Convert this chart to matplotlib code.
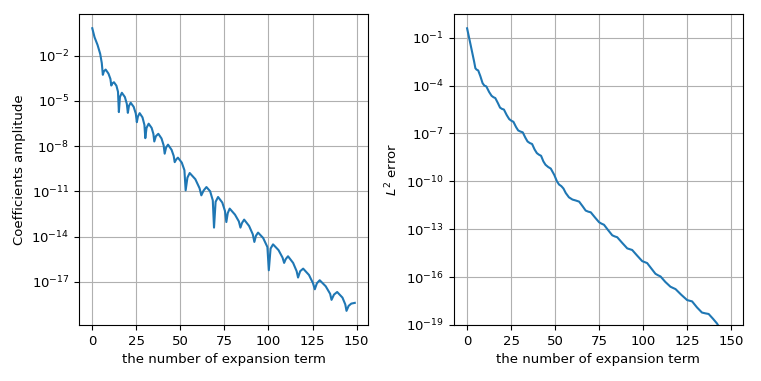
import numpy as np
import matplotlib
matplotlib.use("Agg")
import matplotlib.pyplot as plt

# values (log10 of the quantity)
coef_n = [0, 1.3, 3, 4.5, 5.4, 6,
          6.6, 7.6, 9.2, 10.3, 10.8,
          11.4, 12.3, 13.7, 14.6, 15.1,
          15.7, 16.8, 18.5, 19.6, 20.2,
          20.8, 21.8, 23.5, 24.7, 25.3,
          25.9, 26.9, 28.5, 29.6, 30.1,
          30.8, 32, 33.7, 34.7, 35.2,
          36.1, 37.5, 39.3, 40.5, 41.1,
          41.9, 43, 45, 46.2, 46.8,
          47.6, 48.6, 50.8, 52.3, 53,
          54, 55.3, 58.5, 60.9, 61.9,
          63.2, 64.8, 66.9, 68.4, 69.1,
          70, 71.4, 73.8, 75.3, 76.1,
          76.9, 78, 81, 83.2, 84.1,
          85, 86.2, 89, 91.1, 92,
          92.9, 94.1, 97, 99.4, 100.2,
          101.2, 102.6, 105.7, 108, 108.9,
          109.8, 111.1, 114, 116, 116.8,
          118, 119.7, 123, 125.3, 126.3,
          127.5, 129.1, 132.5, 135, 135.8,
          137.2, 139, 142, 143.6, 144.3,
          145.5, 147, 149]
coef_log = [-0.19, -0.79, -1.3, -1.89, -2.5, -3.28,
            -3.05, -2.93, -3.2, -3.55, -3.99,
            -3.85, -3.77, -4.0, -4.4, -5.75,
            -4.75, -4.47, -4.75, -5.2, -5.8,
            -5.35, -5.13, -5.4, -5.85, -6.42,
            -6.05, -5.82, -6.1, -6.6, -7.48,
            -6.8, -6.52, -6.8, -7.2, -7.7,
            -7.35, -7.19, -7.5, -7.95, -8.51,
            -8.1, -7.91, -8.25, -8.65, -9.07,
            -8.9, -8.77, -9.1, -9.6, -10.94,
            -10.1, -9.79, -10.2, -10.8, -11.27,
            -10.95, -10.72, -11.0, -11.6, -13.41,
            -11.7, -11.38, -11.75, -12.3, -13.04,
            -12.45, -12.15, -12.55, -13.0, -13.41,
            -13.1, -12.88, -13.3, -13.85, -14.36,
            -13.95, -13.74, -14.1, -14.7, -16.24,
            -14.8, -14.52, -14.9, -15.4, -15.75,
            -15.5, -15.31, -15.75, -16.3, -16.72,
            -16.3, -16.13, -16.55, -17.1, -17.5,
            -17.1, -16.9, -17.3, -17.8, -18.2,
            -17.85, -17.68, -18.05, -18.5, -18.93,
            -18.6, -18.45, -18.4]

err_n = [0, 2, 4, 4.7, 5.4, 6.3, 7.5, 8.8, 9.8, 10.9,
         12.5, 13.9, 15, 16, 17.5, 18.7, 19.8, 20.9, 22.5, 23.9,
         25.1, 26.3, 27.8, 29, 30.3, 31.6, 33, 34.3, 35.6, 36.9,
         38.3, 39.6, 40.8, 42, 43.3, 44.5, 46, 47.5, 49.5, 51,
         52.2, 53.5, 54.7, 56, 57.8, 59.8, 61.7, 63.6, 65.5, 67.3,
         68.8, 70.2, 72.5, 74.9, 76.3, 77.7, 80, 82.4, 83.8, 85.2,
         88, 90.9, 92.3, 93.7, 96.5, 99.4, 100.8, 102.2, 104.5, 106.9,
         108.3, 109.8, 112.5, 115.4, 116.9, 118.3, 121.5, 124.9, 126.3, 127.7,
         130.5, 133.3, 135.2, 137.1, 139.5, 141.8, 143.5, 145.5, 147.5, 149]
err_log = [-0.41, -1.45, -2.5, -2.91, -3.0, -3.05, -3.4, -3.85, -4.0, -4.05,
           -4.4, -4.64, -4.73, -4.78, -5.1, -5.38, -5.46, -5.5, -5.85, -6.1,
           -6.2, -6.27, -6.6, -6.81, -6.88, -6.93, -7.25, -7.5, -7.6, -7.66,
           -8.0, -8.23, -8.33, -8.4, -8.75, -8.96, -9.1, -9.2, -9.6, -10.0,
           -10.2, -10.3, -10.45, -10.73, -11.0, -11.14, -11.2, -11.27, -11.55, -11.83,
           -11.9, -11.94, -12.25, -12.56, -12.65, -12.72, -13.05, -13.38, -13.45, -13.5,
           -13.85, -14.2, -14.25, -14.3, -14.65, -15.0, -15.06, -15.12, -15.45, -15.79,
           -15.88, -15.96, -16.3, -16.6, -16.68, -16.75, -17.1, -17.44, -17.48, -17.52,
           -17.9, -18.22, -18.27, -18.31, -18.6, -18.9, -19.2, -19.45, -19.6, -19.8]

plt.rcParams["font.size"] = 9.5

fig, (ax1, ax2) = plt.subplots(1, 2, figsize=(7.61, 3.81), dpi=100)
fig.subplots_adjust(left=0.104, right=0.976, bottom=0.147, top=0.963, wspace=0.298)

ax1.semilogy(coef_n, 10.0 ** np.array(coef_log))
ax1.set_xlabel("the number of expansion term")
ax1.set_ylabel("Coefficients amplitude")
ax1.grid(True)

ax2.semilogy(err_n, 10.0 ** np.array(err_log))
ax2.set_ylim(1e-19, 10 ** 0.48)
ax2.set_xlabel("the number of expansion term")
ax2.set_ylabel("$L^2$ error")
ax2.grid(True)

fig.savefig("out.png")
